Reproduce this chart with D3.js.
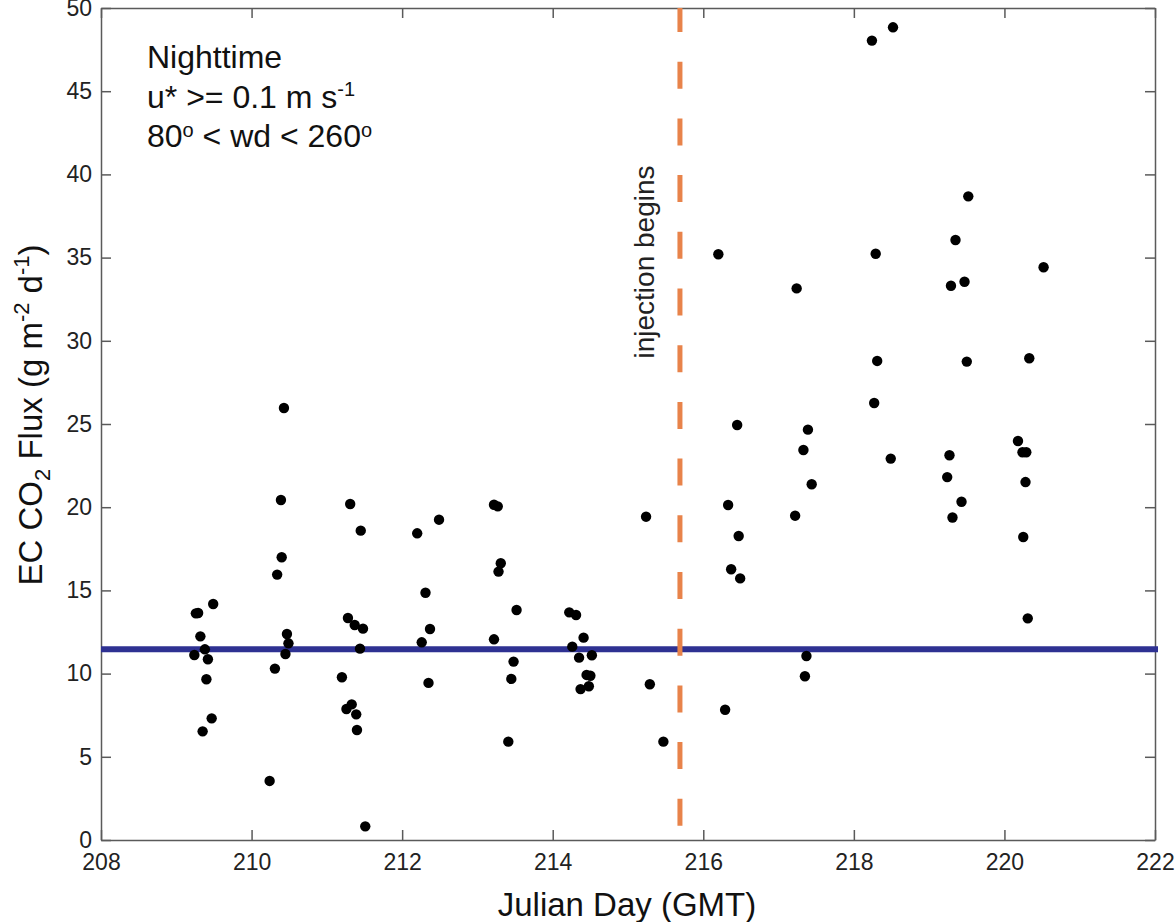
<!DOCTYPE html>
<html>
<head>
<meta charset="utf-8">
<script src="https://cdn.jsdelivr.net/npm/d3@7"></script>
<style>
  body { margin: 0; background: #fff; }
  svg { font-family: "Liberation Sans", Arial, sans-serif; }
  .axis path, .axis line { stroke: #5a5a5a; stroke-width: 1.5; }
  .axis text { fill: #222; font-size: 23px; }
</style>
</head>
<body>
<svg id="chart" width="1176" height="922"></svg>
<script>
// Nighttime EC CO2 flux samples
let julianDay = [
  209.24, 209.26, 209.29, 209.32, 209.35, 209.38, 209.40, 209.42, 209.47, 209.49,
  210.24, 210.31, 210.34, 210.39, 210.40, 210.43, 210.45, 210.47, 210.49,
  211.20, 211.26, 211.28, 211.31, 211.33, 211.37, 211.39, 211.40, 211.44, 211.45, 211.48, 211.51,
  212.20, 212.26, 212.31, 212.35, 212.37, 212.49,
  213.22, 213.22, 213.27, 213.28, 213.31, 213.41, 213.45, 213.48, 213.52,
  214.22, 214.26, 214.31, 214.35, 214.37, 214.41, 214.45, 214.48, 214.50, 214.52,
  215.24, 215.29, 215.47,
  216.20, 216.29, 216.33, 216.37, 216.45, 216.47, 216.49,
  217.22, 217.24, 217.33, 217.35, 217.37, 217.39, 217.44,
  218.24, 218.27, 218.29, 218.31, 218.49, 218.52,
  219.24, 219.27, 219.29, 219.31, 219.35, 219.43, 219.47, 219.50, 219.52,
  220.18, 220.24, 220.25, 220.28, 220.29, 220.31, 220.33, 220.52
];
let co2Flux = [
  11.12, 13.62, 13.64, 12.24, 6.53, 11.46, 9.66, 10.86, 7.31, 14.18,
  3.55, 10.30, 15.95, 20.43, 16.99, 25.96, 11.18, 12.38, 11.82,
  9.78, 7.87, 13.34, 20.19, 8.15, 12.92, 7.55, 6.61, 11.50, 18.59, 12.70, 0.82,
  18.43, 11.88, 14.86, 9.44, 12.68, 19.25,
  12.06, 20.15, 20.05, 16.13, 16.63, 5.91, 9.68, 10.72, 13.82,
  13.68, 11.62, 13.52, 10.96, 9.07, 12.16, 9.92, 9.24, 9.87, 11.10,
  19.43, 9.36, 5.91,
  35.20, 7.83, 20.13, 16.27, 24.94, 18.27, 15.72,
  19.49, 33.15, 23.44, 9.84, 11.06, 24.66, 21.38,
  48.04, 26.26, 35.23, 28.79, 22.92, 48.84,
  21.81, 23.12, 33.31, 19.38, 36.06, 20.33, 33.55, 28.75, 38.68,
  23.98, 23.30, 18.21, 21.51, 23.30, 13.32, 28.95, 34.42
];

// Pre-injection background level and injection start day
let backgroundFlux = 11.46;
let injectionDay = 215.69;

// Axis ticks
let xTicks = [208, 210, 212, 214, 216, 218, 220, 222];
let yTicks = [0, 5, 10, 15, 20, 25, 30, 35, 40, 45, 50];

let margin = { top: 8, right: 21, bottom: 82, left: 101 };
let svg = d3.select("#chart");
let width = 1176 - margin.left - margin.right;
let height = 922 - margin.top - margin.bottom;

let g = svg.append("g")
  .attr("transform", "translate(" + margin.left + "," + margin.top + ")");

let x = d3.scaleLinear().domain([208, 222]).range([0, width]);
let y = d3.scaleLinear().domain([0, 50]).range([height, 0]);

// Axes with inward ticks on all four sides
g.append("g")
  .attr("class", "axis")
  .attr("transform", "translate(0," + height + ")")
  .call(d3.axisBottom(x).tickValues(xTicks).tickSize(-10).tickPadding(14).tickSizeOuter(0));

g.append("g")
  .attr("class", "axis")
  .call(d3.axisLeft(y).tickValues(yTicks).tickSize(-10).tickPadding(9).tickSizeOuter(0));

g.append("g")
  .attr("class", "axis")
  .call(d3.axisTop(x).tickValues(xTicks).tickSize(-10).tickSizeOuter(0).tickFormat(""));

g.append("g")
  .attr("class", "axis")
  .attr("transform", "translate(" + width + ",0)")
  .call(d3.axisRight(y).tickValues(yTicks).tickSize(-10).tickSizeOuter(0).tickFormat(""));

// Background level line
g.append("line")
  .attr("x1", x(208))
  .attr("x2", x(222) + 3)
  .attr("y1", y(backgroundFlux))
  .attr("y2", y(backgroundFlux))
  .attr("stroke", "#2e3192")
  .attr("stroke-width", 6);

// Injection start (dashed)
g.append("line")
  .attr("x1", x(injectionDay))
  .attr("x2", x(injectionDay))
  .attr("y1", y(50))
  .attr("y2", y(0))
  .attr("stroke", "#e8834a")
  .attr("stroke-width", 5)
  .attr("stroke-dasharray", "27,29.7")
  .attr("stroke-dashoffset", 3);

g.append("text")
  .attr("transform", "translate(" + (x(injectionDay) - 26) + "," + 254 + ") rotate(-90)")
  .attr("text-anchor", "middle")
  .attr("font-size", "28px")
  .attr("fill", "#222")
  .text("injection begins");

// Points
let points = julianDay.map((d, i) => ({ day: d, flux: co2Flux[i] }));
g.selectAll(".dot")
  .data(points)
  .enter()
  .append("circle")
  .attr("class", "dot")
  .attr("cx", (d) => x(d.day))
  .attr("cy", (d) => y(d.flux))
  .attr("r", 5.2)
  .attr("fill", "#000");

// Annotation box text
let note = svg.append("text")
  .attr("x", 147)
  .attr("font-size", "32px")
  .attr("fill", "#111");
note.append("tspan").attr("x", 147).attr("y", 68).text("Nighttime");
note.append("tspan").attr("x", 147).attr("y", 108).text("u* >= 0.1 m s");
note.append("tspan").attr("dy", -12).attr("font-size", "20px").text("-1");
note.append("tspan").attr("x", 147).attr("y", 147).text("80");
note.append("tspan").attr("dy", -10).attr("font-size", "20px").text("o");
note.append("tspan").attr("dy", 10).text(" < wd < 260");
note.append("tspan").attr("dy", -10).attr("font-size", "20px").text("o");

// Axis titles
svg.append("text")
  .attr("x", margin.left + width / 2 - 1)
  .attr("y", 916)
  .attr("text-anchor", "middle")
  .attr("font-size", "33px")
  .attr("fill", "#111")
  .text("Julian Day (GMT)");

let yTitle = svg.append("text")
  .attr("transform", "translate(42,415) rotate(-90)")
  .attr("text-anchor", "middle")
  .attr("font-size", "33px")
  .attr("fill", "#111");
yTitle.append("tspan").text("EC CO");
yTitle.append("tspan").attr("dy", 8).attr("font-size", "22px").text("2");
yTitle.append("tspan").attr("dy", -8).text(" Flux (g m");
yTitle.append("tspan").attr("dy", -13).attr("font-size", "22px").text("-2");
yTitle.append("tspan").attr("dy", 13).text(" d");
yTitle.append("tspan").attr("dy", -13).attr("font-size", "22px").text("-1");
yTitle.append("tspan").attr("dy", 13).text(")");
</script>
</body>
</html>
